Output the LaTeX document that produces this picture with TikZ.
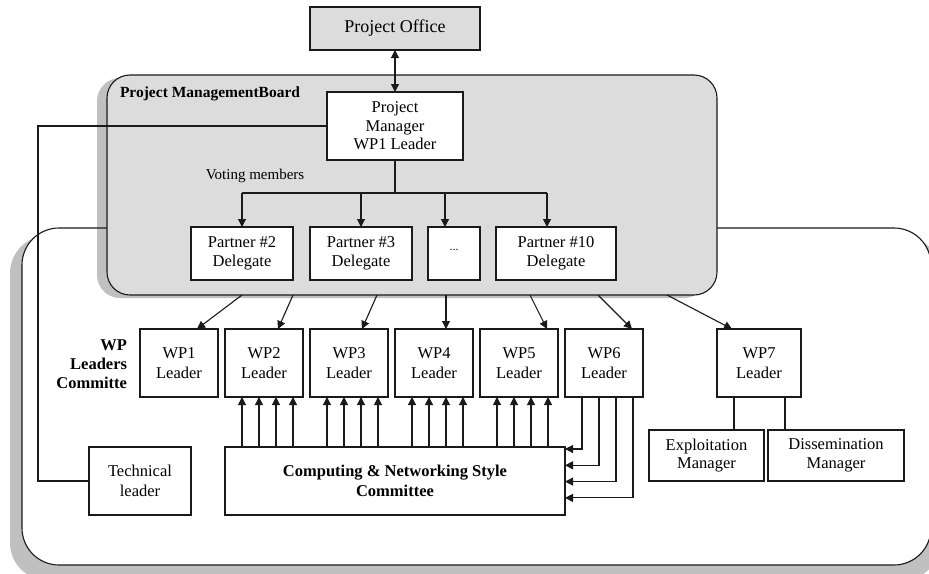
\documentclass[tikz,border=0pt]{standalone}
\usepackage{fontspec}
\setmainfont{Liberation Serif}
\usetikzlibrary{arrows.meta,calc}
\definecolor{boardgray}{HTML}{DCDCDC}
\definecolor{shadowgray}{HTML}{C0C0C0}
\definecolor{linecol}{HTML}{1A1A1A}
\begin{document}
\begin{tikzpicture}[x=1pt,y=-1pt,
  every node/.style={inner sep=0pt, outer sep=0pt},
  line/.style={draw=linecol, line width=1.1pt},
  arr/.style={line, -{Triangle[length=8pt,width=8pt]}},
  dblarr/.style={line, {Triangle[length=8pt,width=8pt]}-{Triangle[length=8pt,width=8pt]}},
  box/.style={draw=linecol, line width=1.1pt, fill=white, align=center, font=\fontsize{16.5}{18.5}\selectfont},
  wpbox/.style={box, minimum width=78pt, minimum height=68pt, font=\fontsize{16.5}{20.5}\selectfont},
]
\useasboundingbox (0,0) rectangle (929,573);
\clip (0,0) rectangle (929,573);

% lower committee area with shadow
\fill[shadowgray, rounded corners=37pt] (10,236) rectangle (940,580);
\fill[white, rounded corners=37pt] (22,228) rectangle (931,565);
% board shadow
\fill[shadowgray, rounded corners=23pt] (97,78) rectangle (707,298);
\node[draw=linecol, line width=1.1pt, rounded corners=37pt, minimum width=909pt, minimum height=337pt] (lower) at (476.5,396.5) {};
\node[draw=linecol, line width=1.1pt, fill=boardgray, rounded corners=23pt, minimum width=610pt, minimum height=220pt] (pmb) at (412,185) {};

% nodes
\node[box, fill=boardgray, minimum width=170pt, minimum height=43pt, font=\fontsize{18}{20}\selectfont] (po) at (395,28.5) {Project Office};
\node[anchor=base west, font=\fontsize{15.5}{17}\selectfont\bfseries] (pmbl) at (120,97) {Project ManagementBoard};
\node[box, minimum width=136pt, minimum height=68pt] (pm) at (395,126) {Project\\Manager\\WP1 Leader};
\node[anchor=base, font=\fontsize{15}{17}\selectfont] (vote) at (255,179) {Voting members};

\node[box, minimum width=102pt, minimum height=53pt] (p2) at (242,253.5) {Partner \#2\\Delegate};
\node[box, minimum width=102pt, minimum height=53pt] (p3) at (361,253.5) {Partner \#3\\Delegate};
\node[box, minimum width=52pt, minimum height=53pt, font=\fontsize{12}{14}\selectfont, text height=1pt, text depth=8pt] (pd) at (454,253.5) {...};
\node[box, minimum width=120pt, minimum height=53pt] (p10) at (556,253.5) {Partner \#10\\Delegate};

\foreach \n/\cx in {1/179,2/264,3/349,4/434,5/519,6/604}
  \node[wpbox] (wp\n) at (\cx,363) {WP\n\\Leader};
\node[wpbox, minimum width=84pt] (wp7) at (759,363) {WP7\\Leader};

\node[anchor=east, align=right, font=\fontsize{16.5}{19}\selectfont\bfseries] (wplab) at (127,364) {WP\\Leaders\\Committe};

\node[box, minimum width=340pt, minimum height=68pt, font=\fontsize{16.5}{20.5}\selectfont\bfseries] (cn) at (395,481) {Computing \& Networking Style\\Committee};
\node[box, minimum width=102pt, minimum height=68pt, font=\fontsize{16.5}{20.5}\selectfont] (tech) at (140,481) {Technical\\leader};
\node[box, minimum width=115pt, minimum height=51pt, font=\fontsize{16.5}{18.5}\selectfont] (expl) at (706.5,455.5) {Exploitation\\Manager};
\node[box, minimum width=136pt, minimum height=51pt, font=\fontsize{16.5}{18.5}\selectfont] (diss) at (836,455.5) {Dissemination\\Manager};

% connectors
\draw[dblarr] (po.south) -- (pm.north);
\coordinate (tj) at (395,193);
\coordinate (tl) at (242,193);
\coordinate (tr) at (547,193);
\coordinate (td) at (445,193);
\draw[line] (pm.south) -- (tj);
\draw[line] (tl) -- (tr);
\draw[arr] (tl) -- (p2.north);
\draw[arr] (tj -| p3.north) -- (p3.north);
\draw[arr] (td) -- (td |- pd.north);
\draw[arr] (tr) -- (tr |- p10.north);

\foreach \n/\sx/\tx in {1/242/197, 2/293/278, 3/377/362, 4/446/446, 5/530/547, 6/598/632, 7/667/732}{
  \coordinate (s\n) at (\sx,295);
  \coordinate (e\n) at (\tx,329);
  \draw[arr] (s\n) -- (e\n);
}

\foreach \n in {2,...,5}{
  \foreach \k in {1,...,4}{
    \path ($(wp\n.south west)+(17*\k,0)$) coordinate (u);
    \draw[arr] (u |- cn.north) -- (u);
  }
}

\foreach \k in {1,...,4}{
  \path ($(wp6.south west)+(17*\k,0)$) coordinate (u);
  \path ($(cn.north east)+(0,16.3*\k-14.3)$) coordinate (v);
  \draw[arr] (u) |- (v);
}

\path ($(wp7.south west)+(17,0)$) coordinate (w1);
\path ($(wp7.south west)+(68,0)$) coordinate (w2);
\draw[line] (w1) -- (w1 |- expl.north);
\draw[line] (w2) -- (w2 |- diss.north);

\coordinate (tc) at (38,481);
\draw[line] (pm.west) -| (tc) -- (tech.west);
\end{tikzpicture}
\end{document}
